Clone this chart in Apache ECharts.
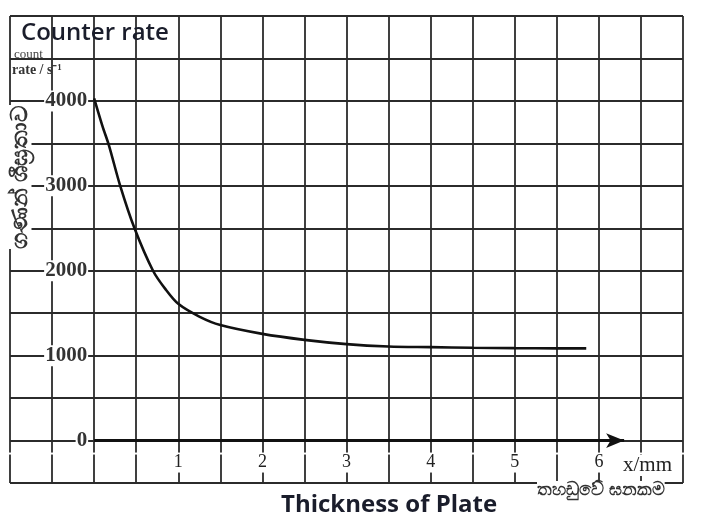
<!DOCTYPE html>
<html><head><meta charset="utf-8">
<script src="https://cdn.jsdelivr.net/npm/echarts@6/dist/echarts.min.js"></script>
<style>html,body{margin:0;padding:0;background:#fff}#c{width:705px;height:525px}</style>
</head><body><div id="c"></div>
<script>
const thickness = [0, 0.1, 0.175, 0.31, 0.48, 0.7, 0.85, 1.0, 1.25, 1.5, 2.0, 2.5, 3.0, 3.5, 4.0, 4.5, 5.0, 5.5, 5.85];
const countRate = [4030, 3700, 3480, 3000, 2500, 2000, 1780, 1610, 1460, 1360, 1256, 1186, 1136, 1108, 1100, 1092, 1088, 1086, 1085];
const xTickLabels = ['1', '2', '3', '4', '5', '6'];
const yTickLabels = ['0', '1000', '2000', '3000', '4000'];
const xArrowEnd = 6.3;
const yArrowEnd = 5080;

const W = 705, H = 525;
const G = {left: 10, right: 22, top: 16, bottom: 42};
const xMin = -1, xMax = 7, yMin = -500, yMax = 5000;
const gw = W - G.left - G.right, gh = H - G.top - G.bottom;
// shift the axes (and their labels) onto the zero lines
const xAxisOffset = -(0 - yMin) / (yMax - yMin) * gh;
const yAxisOffset = -(0 - xMin) / (xMax - xMin) * gw;

const chart = echarts.init(document.getElementById('c'), null, {renderer: 'canvas'});
const gridColor = '#2b2b2b';
chart.setOption({
  animation: false,
  backgroundColor: '#fff',
  grid: Object.assign({containLabel: false, outerBoundsMode: 'none'}, G),
  xAxis: {
    type: 'value', min: xMin, max: xMax, interval: 0.5,
    position: 'bottom', offset: xAxisOffset,
    axisLine: {show: false, onZero: false},
    axisTick: {show: false},
    splitLine: {show: true, lineStyle: {color: gridColor, width: 1.8}},
    axisLabel: {
      margin: 12,
      formatter: v => xTickLabels.includes(String(v)) ? String(v) : '',
      fontFamily: 'Liberation Serif', fontSize: 18, color: '#222',
      backgroundColor: '#fff', padding: [1, 2, 1, 2]
    }
  },
  yAxis: {
    type: 'value', min: yMin, max: yMax, interval: 500,
    position: 'left', offset: yAxisOffset,
    axisLine: {show: false, onZero: false},
    axisTick: {show: false},
    splitLine: {show: true, lineStyle: {color: gridColor, width: 1.8}},
    axisLabel: {
      margin: 6,
      formatter: v => yTickLabels.includes(String(v)) ? String(v) : '',
      fontFamily: 'Liberation Serif', fontSize: 21, fontWeight: 'bold', color: '#333',
      backgroundColor: '#fff', padding: [0, 1, 0, 1]
    }
  },
  series: [{
    type: 'line',
    data: thickness.map((x, i) => [x, countRate[i]]),
    smooth: 0.3,
    symbol: 'none',
    lineStyle: {color: '#111', width: 2.6},
    z: 5,
    markLine: {
      silent: true,
      symbol: ['none', 'arrow'],
      symbolSize: [11, 18],
      label: {show: false},
      lineStyle: {color: '#111', width: 3, type: 'solid'},
      emphasis: {disabled: true},
      data: [
        [{coord: [0, 0]}, {coord: [xArrowEnd, 0]}],
        [{coord: [0, -500]}, {coord: [0, yArrowEnd]}]
      ]
    }
  }],
  graphic: [
    {type: 'text', left: 14, top: 48, z: 10, style: {text: 'count', font: '13px "Liberation Serif"', fill: '#444'}},
    {type: 'text', left: 21, top: 21, z: 11, style: {text: 'Counter rate', font: '600 24px "Open Sans"', fill: '#1a1d2b'}},
    {type: 'text', left: 12, top: 63, z: 10, style: {text: 'rate / s⁻¹', font: 'bold 14px "Liberation Serif"', fill: '#333'}},
    {type: 'text', x: 20, y: 177, rotation: Math.PI / 2, z: 10,
      style: {text: 'ගණන් ශීඝ්‍රතාව', font: 'bold 23px "Noto Sans"', fill: '#333', align: 'center', verticalAlign: 'middle', backgroundColor: '#fff'}},
    {type: 'text', left: 623, top: 455, z: 10, style: {text: 'x/mm', font: '21px "Liberation Serif"', fill: '#222', backgroundColor: '#fff'}},
    {type: 'text', left: 537, top: 481, z: 10, style: {text: 'තහඩුවේ ඝනකම', font: 'bold 18px "Noto Sans"', fill: '#333', backgroundColor: '#fff'}},
    {type: 'text', left: 281, top: 493, z: 10, style: {text: 'Thickness of Plate', font: 'bold 24px "Open Sans"', fill: '#1a1d2b'}}
  ]
});
</script></body></html>
